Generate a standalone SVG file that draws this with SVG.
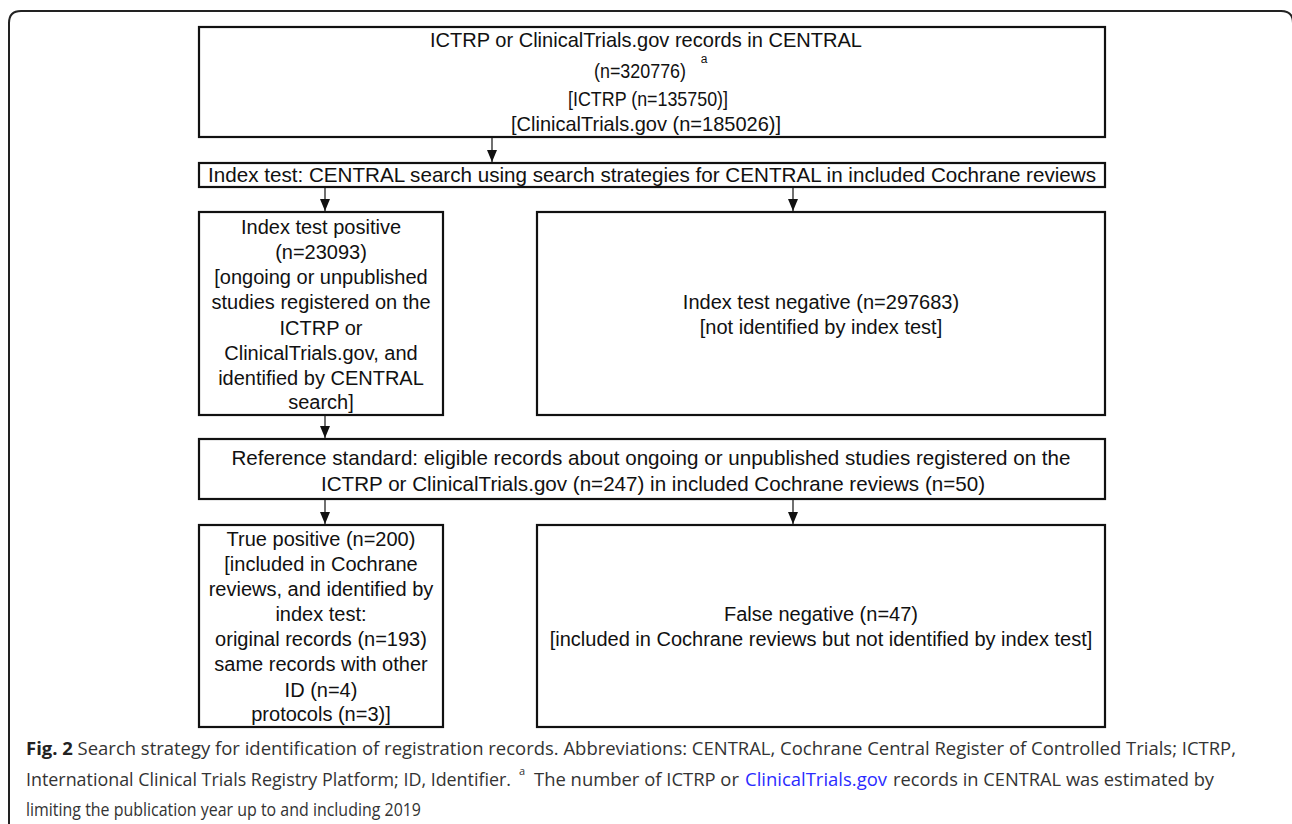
<svg xmlns="http://www.w3.org/2000/svg" width="1292" height="824" viewBox="0 0 1292 824">
<defs>
<marker id="ah" markerWidth="12" markerHeight="10" refX="12" refY="5" orient="auto" markerUnits="userSpaceOnUse" viewBox="0 0 12 10">
<path d="M0,0 L12,5 L0,10 Z" fill="#111"/>
</marker>
<style>
.box{fill:#fff;stroke:#111;stroke-width:2.2}
.t{font-family:"Liberation Sans",Arial,sans-serif;font-size:20px;fill:#111;text-anchor:middle}
.n{font-family:"Liberation Sans",Arial,sans-serif;font-size:21px;fill:#111;text-anchor:middle}
.cap{font-family:"Open Sans","Noto Sans",sans-serif;font-size:18px;fill:#333}
.conn line{stroke:#111;stroke-width:1.2;marker-end:url(#ah)}
</style>
</defs>
<rect width="1292" height="824" fill="#fff"/>
<path d="M9,830 L9,23 Q9,11 21,11 L1281,11 Q1293,11 1293,23 L1293,830" fill="none" stroke="#222" stroke-width="2"/>

<g id="n1">
<rect class="box" x="199" y="27" width="906" height="110"/>
<text class="n" x="646" y="47" textLength="432" lengthAdjust="spacingAndGlyphs">ICTRP or ClinicalTrials.gov records in CENTRAL</text>
<text class="n" x="640" y="78" textLength="92" lengthAdjust="spacingAndGlyphs">(n=320776)</text>
<text class="n" x="704" y="63" style="font-size:12px">a</text>
<text class="n" x="648" y="106" textLength="160" lengthAdjust="spacingAndGlyphs">[ICTRP (n=135750)]</text>
<text class="n" x="646" y="131" textLength="270" lengthAdjust="spacingAndGlyphs">[ClinicalTrials.gov (n=185026)]</text>
</g>

<g id="n2">
<rect class="box" x="199" y="163" width="906" height="24"/>
<text class="n" x="652" y="182" textLength="888" lengthAdjust="spacingAndGlyphs">Index test: CENTRAL search using search strategies for CENTRAL in included Cochrane reviews</text>
</g>

<g id="n3">
<rect class="box" x="199" y="212" width="244" height="203"/>
<text class="t" x="321" y="234">Index test positive</text>
<text class="t" x="321" y="259">(n=23093)</text>
<text class="t" x="321" y="284">[ongoing or unpublished</text>
<text class="t" x="321" y="309">studies registered on the</text>
<text class="t" x="321" y="335">ICTRP or</text>
<text class="t" x="321" y="360">ClinicalTrials.gov, and</text>
<text class="t" x="321" y="385">identified by CENTRAL</text>
<text class="t" x="321" y="409">search]</text>
</g>

<g id="n4">
<rect class="box" x="537" y="212" width="568" height="203"/>
<text class="t" x="821" y="309">Index test negative (n=297683)</text>
<text class="t" x="821" y="334">[not identified by index test]</text>
</g>

<g id="n5">
<rect class="box" x="199" y="439" width="906" height="60"/>
<text class="n" x="651" y="465" textLength="839" lengthAdjust="spacingAndGlyphs">Reference standard: eligible records about ongoing or unpublished studies registered on the</text>
<text class="n" x="653" y="491" textLength="664" lengthAdjust="spacingAndGlyphs">ICTRP or ClinicalTrials.gov (n=247) in included Cochrane reviews (n=50)</text>
</g>

<g id="n6">
<rect class="box" x="199" y="525" width="244" height="202"/>
<text class="t" x="321" y="546">True positive (n=200)</text>
<text class="t" x="321" y="571">[included in Cochrane</text>
<text class="t" x="321" y="596">reviews, and identified by</text>
<text class="t" x="321" y="621">index test:</text>
<text class="t" x="321" y="646">original records (n=193)</text>
<text class="t" x="321" y="671">same records with other</text>
<text class="t" x="321" y="697">ID (n=4)</text>
<text class="t" x="321" y="721">protocols (n=3)]</text>
</g>

<g id="n7">
<rect class="box" x="537" y="525" width="568" height="202"/>
<text class="t" x="821" y="621">False negative (n=47)</text>
<text class="t" x="821" y="646">[included in Cochrane reviews but not identified by index test]</text>
</g>

<g id="connectors" class="conn">
<line x1="492" y1="138" x2="492" y2="162"/>
<line x1="325" y1="188" x2="325" y2="211"/>
<line x1="793" y1="188" x2="793" y2="211"/>
<line x1="325" y1="416" x2="325" y2="438"/>
<line x1="325" y1="500" x2="325" y2="524"/>
<line x1="793" y1="500" x2="793" y2="524"/>
</g>

<g id="caption">
<text class="cap" x="26" y="755" textLength="1210" lengthAdjust="spacingAndGlyphs"><tspan font-weight="bold" fill="#222">Fig. 2</tspan> Search strategy for identification of registration records. Abbreviations: CENTRAL, Cochrane Central Register of Controlled Trials; ICTRP,</text>
<text class="cap" x="26" y="786" textLength="485" lengthAdjust="spacingAndGlyphs">International Clinical Trials Registry Platform; ID, Identifier.</text>
<text class="cap" x="519" y="775" style="font-size:11px">a</text>
<text class="cap" x="534" y="786" textLength="205" lengthAdjust="spacingAndGlyphs">The number of ICTRP or</text>
<text class="cap" x="745" y="786" textLength="142" lengthAdjust="spacingAndGlyphs" style="fill:#2b2bff">ClinicalTrials.gov</text>
<text class="cap" x="893" y="786" textLength="321" lengthAdjust="spacingAndGlyphs">records in CENTRAL was estimated by</text>
<text class="cap" x="26" y="816" textLength="395" lengthAdjust="spacingAndGlyphs">limiting the publication year up to and including 2019</text>
</g>
</svg>
